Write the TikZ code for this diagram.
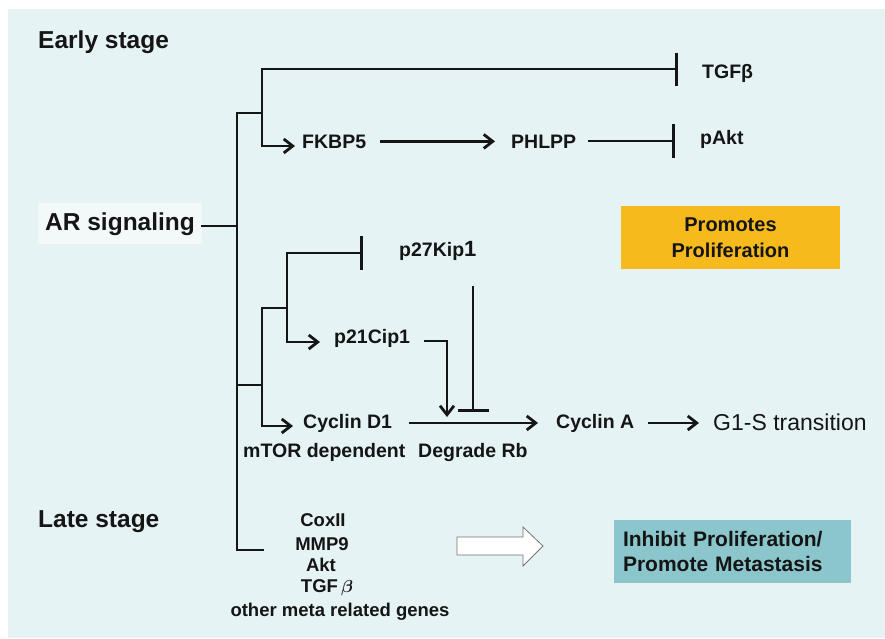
\documentclass[tikz,border=0pt]{standalone}
\usepackage{fontspec}
\usepackage{bm}
\setmainfont{Liberation Sans}
\usetikzlibrary{arrows.meta}
\definecolor{bgc}{HTML}{E6F3F5}
\definecolor{arbox}{HTML}{F3F9F9}
\definecolor{orangebox}{HTML}{F7BA1C}
\definecolor{tealbox}{HTML}{8CC6CD}
\definecolor{ink}{HTML}{151515}
\begin{document}
\begin{tikzpicture}[x=1pt,y=-1pt,
  lbl/.style={inner sep=3pt, anchor=base west, text=ink, font=\bfseries\fontsize{19.5}{23}\selectfont},
  big/.style={inner sep=3pt, anchor=base west, text=ink, font=\bfseries\fontsize{24.5}{28}\selectfont},
  reg/.style={inner sep=3pt, anchor=base west, text=ink, font=\fontsize{23}{27}\selectfont},
  lst/.style={inner sep=2pt, anchor=base, text=ink, font=\bfseries\fontsize{18.5}{22}\selectfont},
  conn/.style={draw=ink, line width=2.8pt, line cap=rect},
  arr/.style={conn, -{Straight Barb[length=9pt,width=14pt]}},
  inh/.style={conn, -{Bar[width=34pt]}},
]
\useasboundingbox (0,0) rectangle (885,638);
\fill[white] (0,0) rectangle (885,638);
\fill[bgc] (8,9) rectangle (885,638);

% text nodes
\node[big] (early) at (35,48) {Early stage};
\node[lbl] (tgf) at (699,78) {TGFβ};
\node[lbl] (fkbp) at (299,148) {FKBP5};
\node[lbl] (phlpp) at (508,148) {PHLPP};
\node[lbl] (pakt) at (697,144) {pAkt};
\node[big, fill=arbox, inner xsep=7pt, inner ysep=9pt] (ar) at (38,230) {AR signaling};
\node[lbl] (p27) at (396,256) {p27Kip{\fontsize{22}{24}\selectfont 1}};
\node[lbl] (p21) at (331,343) {p21Cip1};
\node[lbl] (cd1) at (300,428) {Cyclin D1};
\node[lbl] (mtor) at (240,457) {mTOR dependent};
\node[lbl] (rb) at (415,457) {Degrade Rb};
\node[lbl] (cya) at (553,428) {Cyclin A};
\node[reg] (g1s) at (710,430) {G1-S transition};
\node[big] (late) at (35,527) {Late stage};
\node[lst] (cox) at (323,526) {CoxII};
\node[lst] (mmp) at (322,550) {MMP9};
\node[lst] (akt) at (321,571) {Akt};
\node[lst] (tgfl) at (327,592) {TGF\,$\bm{\beta}$};
\node[lst] (other) at (340,616) {other meta related genes};

\node[fill=orangebox, text=ink, minimum width=219pt, minimum height=63pt, inner sep=0pt, align=center,
      font=\bfseries\fontsize{20}{26}\selectfont] (prom) at (730.5,237.5) {Promotes\\Proliferation};
\node[fill=tealbox, text=ink, minimum height=63pt, text width=219pt, inner xsep=9pt, inner ysep=0pt, align=left,
      font=\bfseries\fontsize{21}{25}\selectfont] (inhbox) at (732.5,551.5) {Inhibit Proliferation/\\Promote Metastasis};

% junction coordinates
\coordinate (tTop) at (237,113);
\coordinate (tAR) at (237,226);
\coordinate (tMid) at (237,385);
\coordinate (tBot) at (237,550);
\coordinate (tBotEnd) at (263,550);
\coordinate (bA) at (262,113);
\coordinate (bTop) at (262,69);
\coordinate (bLow) at (262,146);
\coordinate (tgfBar) at (678,69);
\coordinate (aktBar) at (675,141);
\coordinate (c1) at (262,385);
\coordinate (c1top) at (262,308);
\coordinate (c1bot) at (262,426);
\coordinate (c2) at (287,308);
\coordinate (c2top) at (287,253);
\coordinate (c2bot) at (287,342);
\coordinate (p27Bar) at (363,253);
\coordinate (p21turn) at (447,341);
\coordinate (rbArr) at (447,417);
\coordinate (inhTop) at (473,289);
\coordinate (rbBar) at (473,412);

% trunk
\draw[conn] (bA) -- (tTop) -- (tBot) -- (tBotEnd);
\draw[conn] (ar.east |- tAR) -- (tAR);

% early branch
\draw[conn] (bTop) -- (bLow);
\draw[inh, -{Bar[width=33pt]}] (bTop) -- (tgfBar);
\draw[arr, shorten >=4pt] (bLow) -- (fkbp.west |- bLow);
\draw[arr, shorten <=12pt, shorten >=13pt] (fkbp.east) -- (phlpp.west |- fkbp.east);
\draw[inh, shorten <=10pt] (phlpp.east |- aktBar) -- (aktBar);

% cell-cycle branch
\draw[conn] (tMid) -- (c1);
\draw[arr, shorten >=7pt] (c2) -- (c1top) -- (c1bot) -- (cd1.west |- c1bot);
\draw[conn] (c2top) -- (c2bot);
\draw[inh] (c2top) -- (p27Bar);
\draw[arr, shorten >=11pt] (c2bot) -- (p21.west |- c2bot);
\draw[arr, shorten <=12pt] (p21.east |- p21turn) -- (p21turn) -- (rbArr);
\draw[inh, -{Bar[width=31pt]}, shorten <=24pt] (p27.south -| inhTop) -- (rbBar);
\draw[arr, shorten <=15pt, shorten >=15pt] (cd1.east) -- (cya.west |- cd1.east);
\draw[arr, shorten <=12pt, shorten >=11pt] (cya.east) -- (g1s.west |- cya.east);

% hollow arrow
\draw[draw=black!55, fill=white, line width=0.8pt, line join=miter]
  (457,537) -- (523,537) -- (523,527) -- (543,546) -- (523,566) -- (523,555) -- (457,555) -- cycle;
\end{tikzpicture}
\end{document}
